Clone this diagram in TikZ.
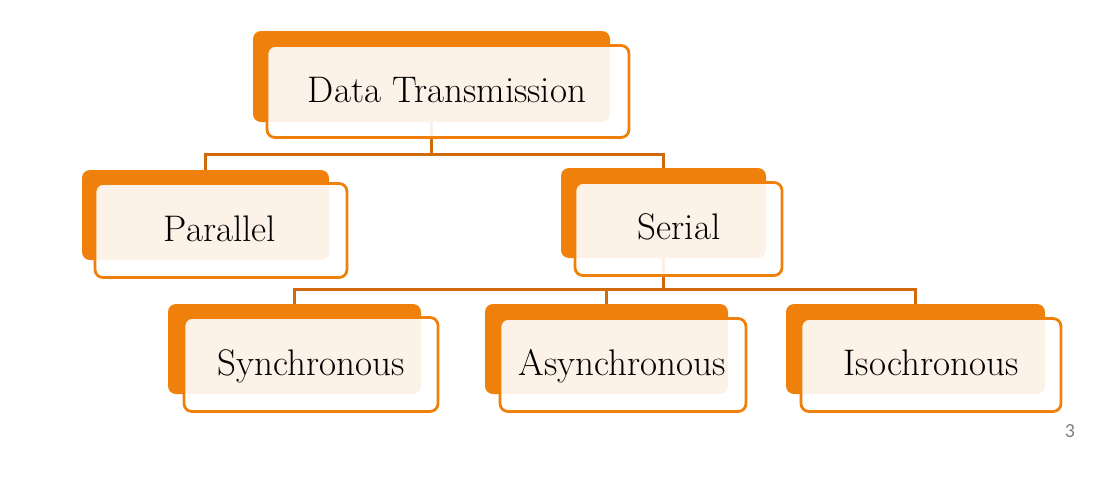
\documentclass[tikz,border=0pt]{standalone}
\usepackage{fontspec}
\newfontfamily\numfont{Carlito}
\begin{document}
\begin{tikzpicture}[x=1pt,y=-1pt,
  backbox/.style={draw=none,fill=boxorange,rounded corners=8pt,inner sep=0pt},
  frontbox/.style={draw=boxorange,line width=2.8pt,fill=white,fill opacity=0.9,text opacity=1,rounded corners=8pt,inner sep=0pt},
  conn/.style={draw=connorange,line width=3pt}]
\definecolor{boxorange}{HTML}{F0800C}
\definecolor{connorange}{HTML}{D16A0C}
\useasboundingbox (0,0) rectangle (1097,485);
% back boxes
\node[backbox,minimum width=357pt,minimum height=91pt] (dtb) at (431.5,76.5) {};
\node[backbox,minimum width=247pt,minimum height=90pt] (parb) at (205.5,215) {};
\node[backbox,minimum width=205pt,minimum height=90pt] (serb) at (663.5,213) {};
\node[backbox,minimum width=253pt,minimum height=90pt] (synb) at (294.5,349) {};
\node[backbox,minimum width=243pt,minimum height=90pt] (asyb) at (606.5,349) {};
\node[backbox,minimum width=259pt,minimum height=90pt] (isob) at (915.5,349) {};
% connectors
\draw[conn] (dtb.south) -- (dtb.south |- 0,154) -| (parb.north);
\draw[conn] (dtb.south |- 0,154) -| (serb.north);
\draw[conn] (serb.south) -- (serb.south |- 0,289) -| (synb.north);
\draw[conn] (serb.south |- 0,289) -| (asyb.north);
\draw[conn] (serb.south |- 0,289) -| (isob.north);
% front boxes
\node[frontbox,minimum width=362pt,minimum height=92pt] (dtf) at (448,91.5) {};
\node[frontbox,minimum width=252pt,minimum height=94pt] (parf) at (221,230.5) {};
\node[frontbox,minimum width=207pt,minimum height=93pt] (serf) at (678.5,229) {};
\node[frontbox,minimum width=254pt,minimum height=94pt] (synf) at (311,364.5) {};
\node[frontbox,minimum width=246pt,minimum height=93pt] (asyf) at (623,365) {};
\node[frontbox,minimum width=260pt,minimum height=93pt] (isof) at (931,365) {};
% labels
\tikzset{lbl/.style={font=\fontsize{37}{44}\selectfont,inner sep=0pt,anchor=base}}
\node[lbl] (dtt) at (447,102) {Data Transmission};
\node[lbl] (part) at (220,241) {Parallel};
\node[lbl] (sert) at (679,239) {Serial};
\node[lbl] (synt) at (311,375) {Synchronous};
\node[lbl] (asyt) at (622,375) {Asynchronous};
\node[lbl] (isot) at (931,375) {Isochronous};
\node[font=\numfont\fontsize{20}{24}\selectfont,text=gray,inner sep=0pt] (pg) at (1070,431) {3};
\end{tikzpicture}
\end{document}
